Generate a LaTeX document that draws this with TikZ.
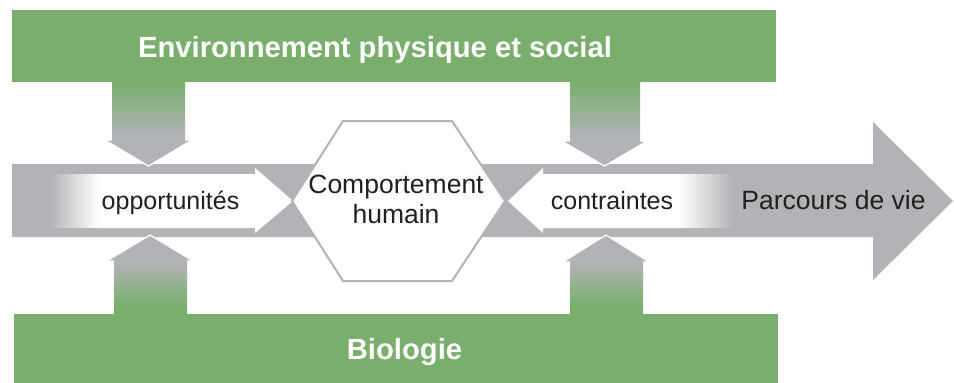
\documentclass[tikz,border=0pt]{standalone}
\usepackage{fontspec}
\setmainfont{Liberation Sans}
\definecolor{grn}{RGB}{121,174,108}
\definecolor{gry}{RGB}{178,179,182}
\definecolor{ink}{RGB}{35,31,32}
\pgfdeclareverticalshading{downshade}{100bp}{color(0bp)=(gry); color(42bp)=(gry); color(75bp)=(grn); color(100bp)=(grn)}
\pgfdeclareverticalshading{upshade}{100bp}{color(0bp)=(grn); color(30bp)=(grn); color(58bp)=(gry); color(100bp)=(gry)}
\pgfdeclarehorizontalshading{fadein}{100bp}{color(0bp)=(gry); color(25bp)=(gry); color(35bp)=(white); color(100bp)=(white)}
\pgfdeclarehorizontalshading{fadeout}{100bp}{color(0bp)=(white); color(63bp)=(white); color(75bp)=(gry); color(100bp)=(gry)}
\tikzset{
  greenbox/.style={fill=grn, draw=none, inner sep=0pt, anchor=north west},
  band/.style={fill=gry, draw=none},
  hexa/.style={fill=white, draw=gry, line width=2pt, line join=miter},
  rim/.style={draw=white, line width=1.2pt, line join=miter},
  lbl/.style={text=ink, inner sep=0pt, font=\fontsize{25}{30}\selectfont},
  biglbl/.style={text=ink, inner sep=0pt, font=\fontsize{26.5}{30}\selectfont},
  ttl/.style={text=white, inner sep=0pt, font=\bfseries\fontsize{29.2}{34}\selectfont}
}
\begin{document}
\begin{tikzpicture}[x=1pt,y=-1pt]
\useasboundingbox[fill=white] (0,0) rectangle (954,383);
% green boxes
\node[greenbox, minimum width=764pt, minimum height=72pt] (env) at (12,10) {};
\node[greenbox, minimum width=764pt, minimum height=69pt] (bio) at (14,314) {};
% main gray band with big arrowhead
\fill[band] (12,164) -- (873,164) -- (873,122) -- (953,201) -- (873,280) -- (873,237) -- (12,237) -- cycle;
% white inner arrows
\shade[shading=fadein] (50,174) -- (255,174) -- (255,168) -- (293,201) -- (255,233) -- (255,228) -- (50,228) -- cycle;
\shade[shading=fadeout] (733,174) -- (543,174) -- (543,168) -- (508,201) -- (543,233) -- (543,228) -- (733,228) -- cycle;
% vertical arrows from top box
\shade[shading=downshade] (112,82) -- (185,82) -- (185,140) -- (192,140) -- (148.5,166) -- (105,140) -- (112,140) -- cycle;
\draw[rim] (112,140) -- (105,140) -- (148.5,166) -- (192,140) -- (185,140);
\shade[shading=downshade] (570,82) -- (640,82) -- (640,141) -- (647,141) -- (604.5,166) -- (562,141) -- (570,141) -- cycle;
\draw[rim] (570,141) -- (562,141) -- (604.5,166) -- (647,141) -- (640,141);
% vertical arrows from bottom box
\shade[shading=upshade] (114,314) -- (187,314) -- (187,261) -- (193,261) -- (150,235) -- (107,261) -- (114,261) -- cycle;
\draw[rim] (114,261) -- (107,261) -- (150,235) -- (193,261) -- (187,261);
\shade[shading=upshade] (570,314) -- (643,314) -- (643,262) -- (649,262) -- (606,235) -- (563,262) -- (570,262) -- cycle;
\draw[rim] (570,262) -- (563,262) -- (606,235) -- (649,262) -- (643,262);
% hexagon
\draw[hexa] (343,121) -- (452,121) -- (505,201) -- (452,281) -- (343,281) -- (292,201) -- cycle;
% texts
\node[ttl, anchor=base] (envt) at (375,57) {Environnement physique et social};
\node[ttl, anchor=base] (biot) at (404.5,359) {Biologie};
\node[lbl, anchor=base] (opp) at (170.5,209) {opportunités};
\node[lbl, anchor=base] (con) at (612,209) {contraintes};
\node[biglbl, anchor=base] (pdv) at (833.5,209) {Parcours de vie};
\node[biglbl, align=center] (comp) at (396,199.5) {Comportement\\humain};
\end{tikzpicture}
\end{document}
